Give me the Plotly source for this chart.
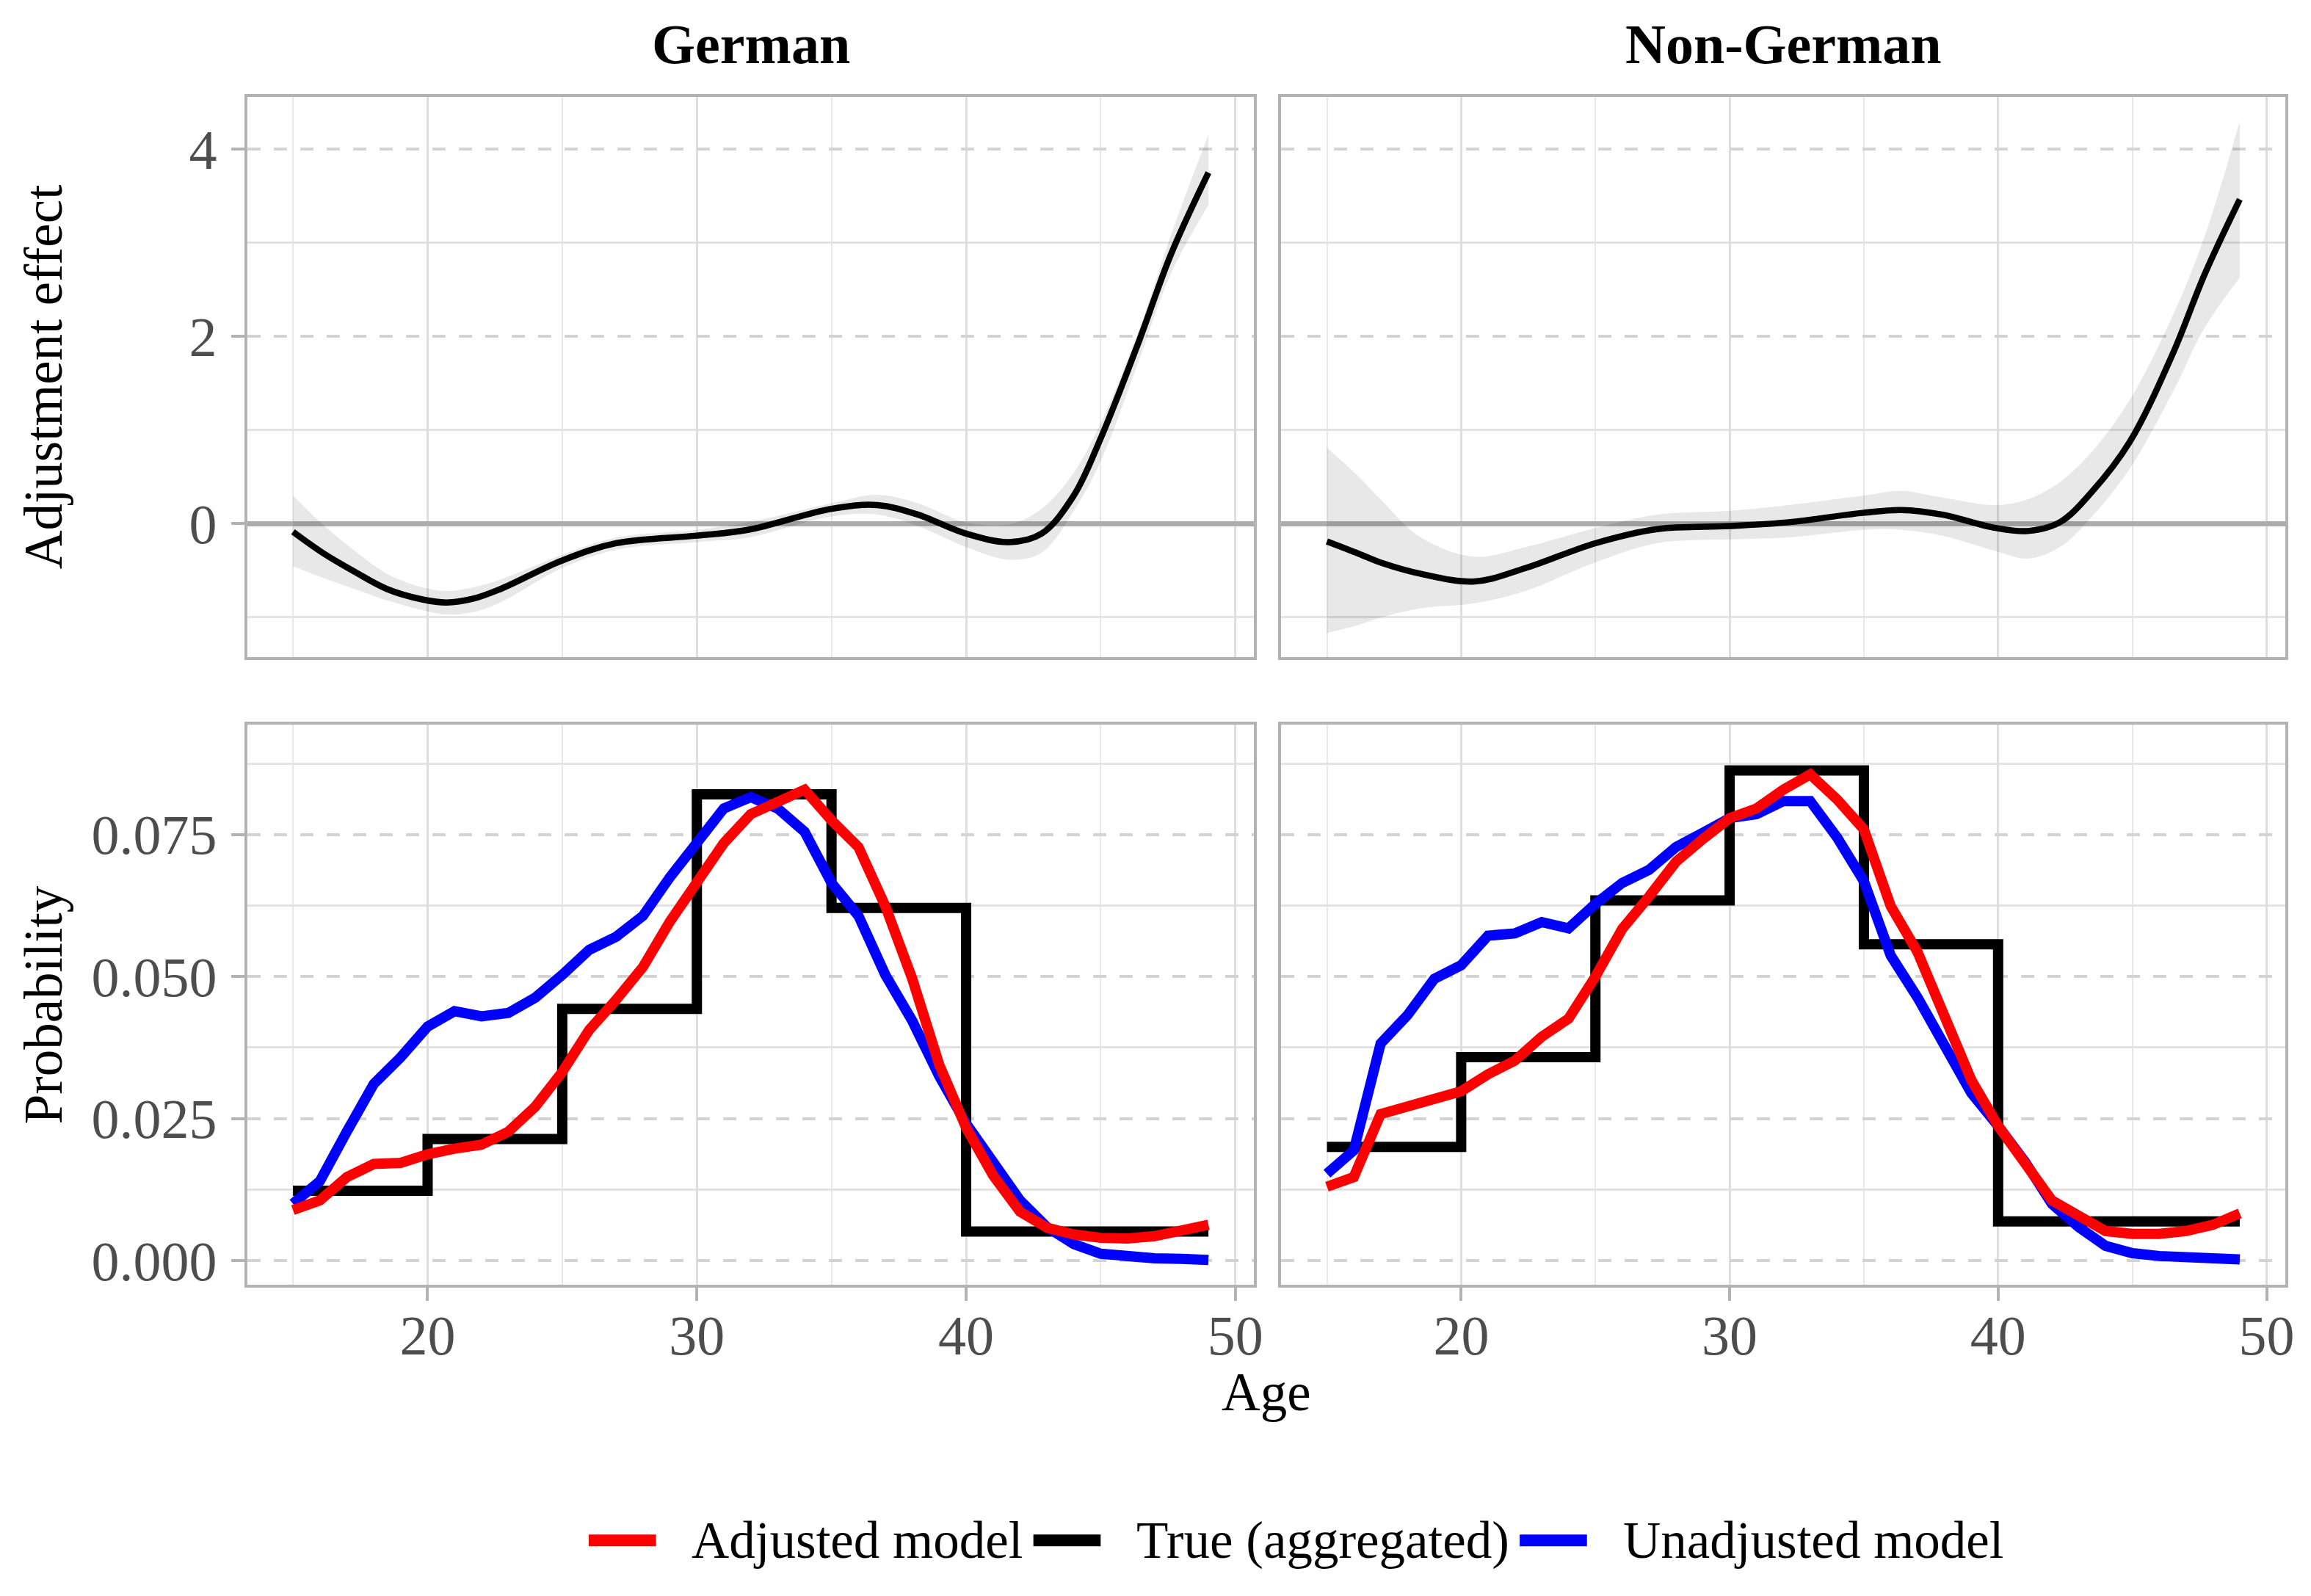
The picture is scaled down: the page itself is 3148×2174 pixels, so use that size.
import plotly.graph_objects as go

W, H = 3148, 2174
FONT = "Liberation Serif"

PANELS = ["German", "Non-German"]

# ---- Top row: adjustment effect (smooth fit with confidence band) ----
GER_EFF_AGE = [15, 16.1, 17.3, 18.5, 19.8, 20.7, 21.7, 22.7, 25, 27, 30, 31.9, 35,
               36.7, 38.2, 40, 41.6, 42.8, 44, 45, 46.4, 47.6, 49]
GER_EFF_FIT = [-0.086, -0.310, -0.514, -0.698, -0.808, -0.841, -0.800, -0.698, -0.392,
               -0.208, -0.127, -0.065, 0.159, 0.200, 0.098, -0.106, -0.196, -0.106,
               0.302, 0.914, 1.935, 2.873, 3.751]
GER_EFF_HI = [0.302, -0.004, -0.290, -0.535, -0.678, -0.718, -0.678, -0.596, -0.331,
              -0.147, -0.065, 0.016, 0.220, 0.310, 0.220, 0.016, -0.004, 0.159,
              0.547, 1.078, 2.057, 3.078, 4.159]
GER_EFF_LO = [-0.453, -0.576, -0.698, -0.820, -0.922, -0.971, -0.943, -0.841, -0.473,
              -0.278, -0.196, -0.147, 0.078, 0.098, -0.024, -0.249, -0.384, -0.310,
              0.139, 0.669, 1.731, 2.669, 3.404]

NG_EFF_AGE = [15, 16.1, 17, 18.5, 20.5, 22.4, 25, 27.3, 30, 32.2, 35, 36.4, 37.9,
              39.9, 41.1, 42.3, 43.5, 44.9, 46.5, 47.7, 49]
NG_EFF_FIT = [-0.188, -0.310, -0.414, -0.535, -0.616, -0.473, -0.208, -0.057, -0.024,
              0.016, 0.118, 0.147, 0.098, -0.045, -0.078, 0.016, 0.343, 0.873, 1.812,
              2.669, 3.465]
NG_EFF_HI = [0.812, 0.527, 0.261, -0.147, -0.351, -0.249, -0.045, 0.098, 0.139, 0.200,
             0.302, 0.351, 0.282, 0.200, 0.261, 0.445, 0.771, 1.322, 2.220, 3.078, 4.302]
NG_EFF_LO = [-1.167, -1.086, -1.004, -0.902, -0.849, -0.718, -0.412, -0.208, -0.167,
             -0.147, -0.065, -0.065, -0.127, -0.290, -0.373, -0.249, 0.078, 0.588,
             1.404, 2.098, 2.629]

# ---- Bottom row: probability by age ----
AGES = list(range(15, 50))
GER_ADJ = [0.0089, 0.0106, 0.0147, 0.0170, 0.0172, 0.0187, 0.0197, 0.0204, 0.0227,
           0.0271, 0.0332, 0.0406, 0.0459, 0.0517, 0.0597, 0.0668, 0.0735, 0.0786,
           0.0809, 0.0829, 0.0775, 0.0728, 0.0624, 0.0496, 0.0345, 0.0234, 0.0150,
           0.0086, 0.0058, 0.0046, 0.0040, 0.0039, 0.0043, 0.0051, 0.0063]
GER_UNADJ = [0.0100, 0.0140, 0.0227, 0.0311, 0.0358, 0.0412, 0.0439, 0.0430, 0.0436,
             0.0463, 0.0503, 0.0547, 0.0570, 0.0607, 0.0675, 0.0738, 0.0796, 0.0816,
             0.0796, 0.0755, 0.0665, 0.0607, 0.0503, 0.0422, 0.0325, 0.0241, 0.0174,
             0.0106, 0.0059, 0.0029, 0.0012, 0.0007, 0.0004, 0.0003, 0.0001]
NG_ADJ = [0.0130, 0.0147, 0.0258, 0.0271, 0.0288, 0.0298, 0.0328, 0.0352, 0.0394,
          0.0426, 0.0500, 0.0584, 0.0641, 0.0702, 0.0742, 0.0779, 0.0796, 0.0829,
          0.0856, 0.0812, 0.0759, 0.0624, 0.0543, 0.0429, 0.0318, 0.0237, 0.0174,
          0.0106, 0.0079, 0.0052, 0.0047, 0.0047, 0.0052, 0.0063, 0.0083]
NG_UNADJ = [0.0153, 0.0194, 0.0382, 0.0432, 0.0496, 0.0520, 0.0572, 0.0576, 0.0596,
            0.0585, 0.0628, 0.0665, 0.0688, 0.0728, 0.0753, 0.0779, 0.0786, 0.0809,
            0.0809, 0.0745, 0.0668, 0.0537, 0.0463, 0.0382, 0.0295, 0.0237, 0.0174,
            0.0100, 0.0059, 0.0026, 0.0013, 0.0008, 0.0005, 0.0003, 0.0002]
STEP_AGE = [15, 20, 25, 30, 35, 40, 49]
GER_TRUE = [0.0123, 0.0214, 0.0443, 0.0821, 0.0621, 0.0051]
NG_TRUE = [0.0200, 0.0358, 0.0634, 0.0863, 0.0557, 0.0069]

SERIES = ["Adjusted model", "True (aggregated)", "Unadjusted model"]
COLORS = {"Adjusted model": "#FF0000", "True (aggregated)": "#000000",
          "Unadjusted model": "#0000FF"}

X_TICKS = [20, 30, 40, 50]
X_MINOR = [15, 25, 35, 45]
TOP_TICKS = [0, 2, 4]
TOP_MINOR = [-1, 1, 3]
BOT_TICKS = [0, 0.025, 0.05, 0.075]
BOT_LABELS = ["0.000", "0.025", "0.050", "0.075"]
BOT_MINOR = [0.0125, 0.0375, 0.0625, 0.0875]

X_TITLE = "Age"
Y_TITLES = ["Adjustment effect", "Probability"]

# ---- layout geometry (pixels) ----
PX_L = [330, 1744]
PX_R = [1707, 3117]
PY_TOP = [124.6, 891]
PY_BOT = [983.5, 1750]

BORDER = "#B3B3B3"
TICKFONT = dict(family=FONT, size=76, color="#4D4D4D")
TITLEFONT = dict(family=FONT, size=73, color="#000000")
LW = 14

fig = go.Figure()

eff = [(GER_EFF_AGE, GER_EFF_FIT, GER_EFF_LO, GER_EFF_HI),
       (NG_EFF_AGE, NG_EFF_FIT, NG_EFF_LO, NG_EFF_HI)]
prob = [(GER_ADJ, GER_TRUE, GER_UNADJ), (NG_ADJ, NG_TRUE, NG_UNADJ)]

for i in range(2):
    xa_top = "x" if i == 0 else "x2"
    ya_top = "y" if i == 0 else "y2"
    xa_bot = "x3" if i == 0 else "x4"
    ya_bot = "y3" if i == 0 else "y4"
    age, fit, lo, hi = eff[i]
    fig.add_trace(go.Scatter(x=age, y=lo, mode="lines", line=dict(width=0, shape="spline"),
                             xaxis=xa_top, yaxis=ya_top, showlegend=False, hoverinfo="skip"))
    fig.add_trace(go.Scatter(x=age, y=hi, mode="lines", line=dict(width=0, shape="spline"),
                             fill="tonexty", fillcolor="rgba(0,0,0,0.09)",
                             xaxis=xa_top, yaxis=ya_top, showlegend=False, hoverinfo="skip"))
    fig.add_trace(go.Scatter(x=age, y=fit, mode="lines",
                             line=dict(width=8.5, color="#000000", shape="spline"),
                             xaxis=xa_top, yaxis=ya_top, showlegend=False))
    adj, true, unadj = prob[i]
    fig.add_trace(go.Scatter(x=STEP_AGE, y=true + [true[-1]], mode="lines",
                             name=SERIES[1],
                             line=dict(width=LW, color=COLORS[SERIES[1]], shape="hv"),
                             xaxis=xa_bot, yaxis=ya_bot, showlegend=False))
    fig.add_trace(go.Scatter(x=AGES, y=unadj, mode="lines", name=SERIES[2],
                             line=dict(width=LW, color=COLORS[SERIES[2]]),
                             xaxis=xa_bot, yaxis=ya_bot, showlegend=False))
    fig.add_trace(go.Scatter(x=AGES, y=adj, mode="lines", name=SERIES[0],
                             line=dict(width=LW, color=COLORS[SERIES[0]]),
                             xaxis=xa_bot, yaxis=ya_bot, showlegend=False))


def xdom(i):
    return [PX_L[i] / W, PX_R[i] / W]


def ydom(p):
    return [1 - p[1] / H, 1 - p[0] / H]


common = dict(showline=True, mirror=True, linecolor=BORDER, linewidth=4,
              tickfont=TICKFONT)

xgrid = dict(showgrid=True, gridcolor="#DEDEDE", gridwidth=3, griddash="solid",
             tickmode="array", tickvals=X_TICKS, ticktext=[str(v) for v in X_TICKS],
             minor=dict(tickvals=X_MINOR, showgrid=True, gridcolor="#E8E8E8",
                        gridwidth=2, griddash="solid", ticks=""),
             range=[13.3, 50.7], zeroline=False)

layout = dict(width=W, height=H, autosize=False,
              margin=dict(l=0, r=0, t=0, b=0, pad=0),
              paper_bgcolor="white", plot_bgcolor="white", showlegend=False)

for i in range(2):
    top_name = "xaxis" if i == 0 else "xaxis2"
    bot_name = "xaxis3" if i == 0 else "xaxis4"
    layout[top_name] = dict(domain=xdom(i), anchor="y" if i == 0 else "y2",
                            showticklabels=False, ticks="", **xgrid, **common)
    layout[bot_name] = dict(domain=xdom(i), anchor="y3" if i == 0 else "y4",
                            showticklabels=True, ticks="outside", ticklen=18,
                            tickwidth=4, tickcolor=BORDER, ticklabelstandoff=-18,
                            **xgrid, **common)

for i in range(2):
    yt = "yaxis" if i == 0 else "yaxis2"
    yb = "yaxis3" if i == 0 else "yaxis4"
    show = i == 0
    tick_kw = dict(ticks="outside", ticklen=18, tickwidth=4, tickcolor=BORDER,
                   ticklabelstandoff=4) if show else dict(ticks="")
    layout[yt] = dict(domain=ydom(PY_TOP), anchor="x" if i == 0 else "x2",
                      range=[-1.423, 4.559], tickmode="array", tickvals=TOP_TICKS,
                      ticktext=[str(v) for v in TOP_TICKS], showticklabels=show,
                      showgrid=True, gridcolor="#D3D3D3", gridwidth=4, griddash="18px,18px",
                      minor=dict(tickvals=TOP_MINOR, showgrid=True, gridcolor="#E3E3E3",
                                 gridwidth=3, griddash="solid", ticks=""),
                      zeroline=True, zerolinecolor="#ADADAD", zerolinewidth=7,
                      **tick_kw, **common)
    layout[yb] = dict(domain=ydom(PY_BOT), anchor="x3" if i == 0 else "x4",
                      range=[-0.00425, 0.09437], tickmode="array", tickvals=BOT_TICKS,
                      ticktext=BOT_LABELS, showticklabels=show,
                      showgrid=True, gridcolor="#D3D3D3", gridwidth=4, griddash="18px,18px",
                      minor=dict(tickvals=BOT_MINOR, showgrid=True, gridcolor="#E3E3E3",
                                 gridwidth=3, griddash="solid", ticks=""),
                      zeroline=False, **tick_kw, **common)

annotations = []
for i, name in enumerate(PANELS):
    annotations.append(dict(text=name, x=(PX_L[i] + PX_R[i]) / 2 / W, y=1 - 52 / H,
                            xref="paper", yref="paper", xanchor="center", yanchor="middle",
                            showarrow=False,
                            font=dict(family=FONT, size=76, color="#000000", weight="bold")))
annotations.append(dict(text=X_TITLE, x=(PX_L[0] + PX_R[1]) / 2 / W, y=1 - 1897 / H,
                        xref="paper", yref="paper", xanchor="center", yanchor="middle",
                        showarrow=False, font=TITLEFONT))
for p, t in zip([PY_TOP, PY_BOT], Y_TITLES):
    annotations.append(dict(text=t, x=52 / W, y=1 - (p[0] + p[1]) / 2 / H,
                            xref="paper", yref="paper", xanchor="center", yanchor="middle",
                            textangle=-90, showarrow=False, font=TITLEFONT))

# legend (keys drawn as line segments, text as annotations)
LEG_KEY_X = [797, 1405, 2070]
LEG_KEY_LEN = 92
LEG_TEXT_GAP = 47
LEG_Y = 2100
shapes = []
for kx, name in zip(LEG_KEY_X, SERIES):
    shapes.append(dict(type="line", xref="paper", yref="paper",
                       x0=kx / W, x1=(kx + LEG_KEY_LEN) / W,
                       y0=1 - LEG_Y / H, y1=1 - LEG_Y / H,
                       line=dict(color=COLORS[name], width=16)))
    annotations.append(dict(text=name, x=(kx + LEG_KEY_LEN + LEG_TEXT_GAP) / W,
                            y=1 - LEG_Y / H, xref="paper", yref="paper",
                            xanchor="left", yanchor="middle", showarrow=False,
                            font=dict(family=FONT, size=71, color="#000000")))

layout["annotations"] = annotations
layout["shapes"] = shapes
fig.update_layout(**layout)
fig.write_html("out.html")
